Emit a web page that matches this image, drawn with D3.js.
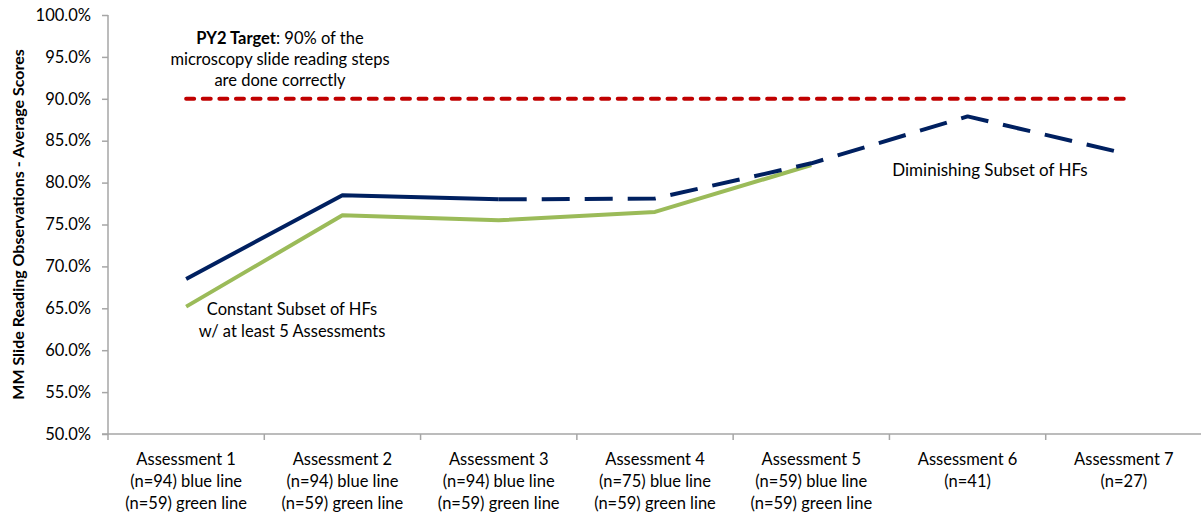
<!DOCTYPE html>
<html><head><meta charset="utf-8">
<script src="https://cdn.jsdelivr.net/npm/d3@7"></script>
<style>
html,body{margin:0;padding:0;background:#fff;}
svg text{font-family:Lato,"Open Sans",sans-serif;fill:#000;}
</style></head>
<body><svg id="c" width="1201" height="517"></svg>
<script>
const categories = ["Assessment 1","Assessment 2","Assessment 3","Assessment 4","Assessment 5","Assessment 6","Assessment 7"];
const categoryLine2 = ["(n=94) blue line","(n=94) blue line","(n=94) blue line","(n=75) blue line","(n=59) blue line","(n=41)","(n=27)"];
const categoryLine3 = ["(n=59) green line","(n=59) green line","(n=59) green line","(n=59) green line","(n=59) green line","",""];
const blueValues = [68.5, 78.5, 78.0, 78.1, 82.3, 87.9, 83.5];
const greenValues = [65.2, 76.1, 75.5, 76.5, 82.1];
const targetValue = 90;
const yTicks = [50,55,60,65,70,75,80,85,90,95,100];
const yTitle = "MM Slide Reading Observations - Average Scores";

const svg = d3.select("#c");
const pLeft = 108, pRight = 1202, pTop = 15, pBottom = 434;
const x = d3.scaleBand().domain(categories).range([pLeft, pRight]);
const y = d3.scaleLinear().domain([50, 100]).range([pBottom, pTop]);
const cx = c => x(c) + x.bandwidth() / 2;
const axisColor = "#a6a6a6";
const fs = 16.5;

// Y axis
const ya = svg.append("g").attr("transform", `translate(${pLeft},0)`)
  .call(d3.axisLeft(y).tickValues(yTicks).tickSize(6).tickPadding(11).tickFormat(d => d.toFixed(1) + "%"));
ya.select(".domain").attr("stroke", axisColor).attr("stroke-width", 1.5).attr("d", `M0,${pTop}V${pBottom}`);
ya.selectAll(".tick line").attr("stroke", axisColor).attr("stroke-width", 1.5);
ya.selectAll(".tick text").attr("font-size", fs).attr("font-family", "Lato").attr("fill", "#000");

// X axis
const xa = svg.append("g").attr("transform", `translate(0,${pBottom})`);
xa.append("line").attr("x1", pLeft - 6).attr("x2", pRight).attr("y1", 0).attr("y2", 0)
  .attr("stroke", axisColor).attr("stroke-width", 1.5);
const bounds = categories.map(c => x(c));
xa.selectAll("line.t").data(bounds).enter().append("line").attr("class", "t")
  .attr("x1", d => d).attr("x2", d => d).attr("y1", 0).attr("y2", 6)
  .attr("stroke", axisColor).attr("stroke-width", 1.5);
const lab = xa.selectAll("text.c").data(categories).enter().append("text").attr("class", "c")
  .attr("text-anchor", "middle").attr("font-size", fs);
lab.each(function(d, i) {
  const t = d3.select(this);
  const lines = [d, categoryLine2[i], categoryLine3[i]].filter(s => s);
  lines.forEach((s, j) => {
    t.append("tspan").attr("x", cx(d)).attr("y", 31 + j * 22).text(s);
  });
});

// Y title
svg.append("text").attr("transform", `translate(24,${(pTop + pBottom) / 2}) rotate(-90)`)
  .attr("text-anchor", "middle").attr("font-size", 16).attr("font-weight", "bold").text(yTitle);

// Target line
svg.append("line").attr("x1", cx(categories[0])).attr("x2", cx(categories[6]))
  .attr("y1", y(targetValue)).attr("y2", y(targetValue))
  .attr("stroke", "#C00000").attr("stroke-width", 4).attr("stroke-dasharray", "8,8.6")
  .attr("stroke-linecap", "round");

const line = d3.line().x(d => cx(d.c)).y(d => y(d.v));
const blue = blueValues.map((v, i) => ({c: categories[i], v}));
const green = greenValues.map((v, i) => ({c: categories[i], v}));

// Green
svg.append("path").attr("d", line(green)).attr("fill", "none")
  .attr("stroke", "#9BBB59").attr("stroke-width", 4).attr("stroke-linejoin", "round");
// Blue dashed part
svg.append("path").attr("d", line(blue.slice(2))).attr("fill", "none")
  .attr("stroke", "#002060").attr("stroke-width", 4).attr("stroke-dasharray", "28,15")
  .attr("stroke-linejoin", "round");
// Blue solid part
svg.append("path").attr("d", line(blue.slice(0, 3))).attr("fill", "none")
  .attr("stroke", "#002060").attr("stroke-width", 4).attr("stroke-linejoin", "round");

// Annotations
const ann = svg.append("text").attr("text-anchor", "middle").attr("font-size", fs);
const ax = 280;
const t1 = ann.append("tspan").attr("x", ax).attr("y", 44);
t1.append("tspan").attr("font-weight", "bold").text("PY2 Target");
t1.append("tspan").text(": 90% of the");
ann.append("tspan").attr("x", ax).attr("y", 65).text("microscopy slide reading steps");
ann.append("tspan").attr("x", ax).attr("y", 86).text("are done correctly");

const a2 = svg.append("text").attr("text-anchor", "middle").attr("font-size", fs);
a2.append("tspan").attr("x", 292).attr("y", 315).text("Constant Subset of HFs");
a2.append("tspan").attr("x", 292).attr("y", 337).text("w/ at least 5 Assessments");

svg.append("text").attr("x", 990).attr("y", 176).attr("text-anchor", "middle")
  .attr("font-size", 17).text("Diminishing Subset of HFs");
</script></body></html>
